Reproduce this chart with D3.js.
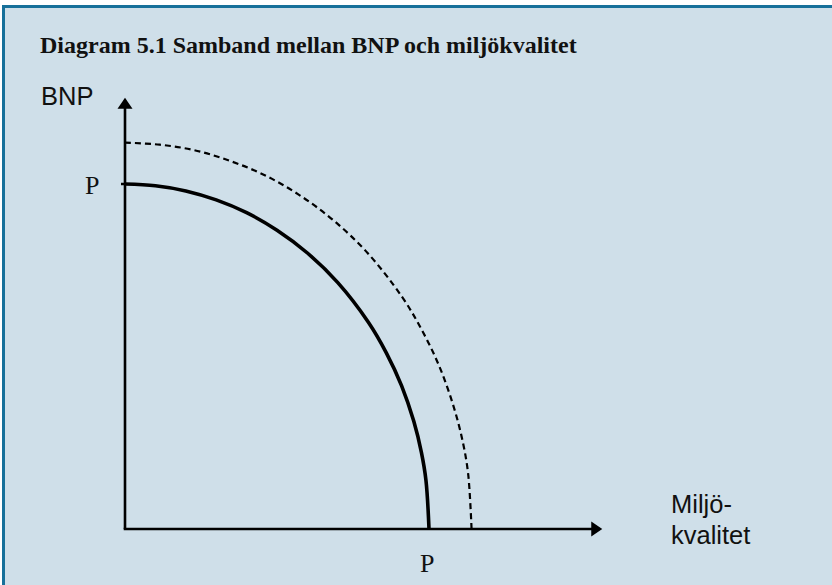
<!DOCTYPE html>
<html>
<head>
<meta charset="utf-8">
<script src="https://cdn.jsdelivr.net/npm/d3@7"></script>
<style>
  body { margin: 0; background: #fff; }
  svg { display: block; }
</style>
</head>
<body>
<script>
// values; P = 1 on both axes
const title = "Diagram 5.1 Samband mellan BNP och miljökvalitet";
const yLabel = "BNP";
const xLabel = ["Miljö-", "kvalitet"];
const pointLabel = "P";

const axisMax = { x: 1.57, y: 1.25 };

const solidX = [0, 0.1, 0.2, 0.3, 0.4, 0.5, 0.6, 0.7, 0.8, 0.86, 0.91, 0.95, 0.975, 0.99, 1.0];
const solidY = [1, 0.995, 0.98, 0.954, 0.917, 0.866, 0.8, 0.714, 0.6, 0.51, 0.415, 0.312, 0.222, 0.141, 0];

const dashedX = [0, 0.114, 0.228, 0.342, 0.456, 0.57, 0.684, 0.798, 0.912, 0.98, 1.037, 1.083, 1.112, 1.129, 1.14];
const dashedY = [1.12, 1.114, 1.098, 1.068, 1.027, 0.97, 0.896, 0.8, 0.672, 0.571, 0.465, 0.349, 0.249, 0.158, 0];

const width = 832;
const height = 585;
const origin = { x: 125, y: 529 };

const svg = d3.select("body")
  .append("svg")
  .attr("width", width)
  .attr("height", height);

// panel with teal frame (cropped on the right and bottom)
svg.append("rect")
  .attr("x", 3.5)
  .attr("y", 6.5)
  .attr("width", width + 10)
  .attr("height", height + 10)
  .attr("fill", "#cfdfe9")
  .attr("stroke", "#17709a")
  .attr("stroke-width", 3);

const x = d3.scaleLinear().domain([0, 1]).range([origin.x, 429]);
const y = d3.scaleLinear().domain([0, 1]).range([origin.y, 184]);

svg.append("text")
  .attr("x", 40)
  .attr("y", 53)
  .attr("font-family", "Liberation Serif, Times New Roman, serif")
  .attr("font-weight", "bold")
  .attr("font-size", 24)
  .attr("fill", "#111")
  .text(title);

// axes
const axes = svg.append("g")
  .attr("stroke", "#000")
  .attr("stroke-width", 2.6)
  .attr("fill", "none");

axes.append("path")
  .attr("d", d3.line()([[x(0), y(0)], [x(0), y(axisMax.y) + 8]]));
axes.append("path")
  .attr("d", d3.line()([[x(0) - 1.3, y(0)], [x(axisMax.x) - 8, y(0)]]));

const yTip = [x(0), y(axisMax.y)];
svg.append("path")
  .attr("d", d3.line()([[yTip[0], yTip[1]], [yTip[0] - 7.5, yTip[1] + 11], [yTip[0] + 7.5, yTip[1] + 11]]) + "Z")
  .attr("fill", "#000");

const xTip = [x(axisMax.x), y(0)];
svg.append("path")
  .attr("d", d3.line()([[xTip[0], xTip[1]], [xTip[0] - 11, xTip[1] - 7.5], [xTip[0] - 11, xTip[1] + 7.5]]) + "Z")
  .attr("fill", "#000");

// curves
const line = d3.line()
  .x(d => x(d[0]))
  .y(d => y(d[1]))
  .curve(d3.curveCatmullRom.alpha(0.5));

svg.append("path")
  .attr("d", line(d3.zip(dashedX, dashedY)))
  .attr("fill", "none")
  .attr("stroke", "#000")
  .attr("stroke-width", 2.2)
  .attr("stroke-dasharray", "6,4");

svg.append("path")
  .attr("d", line(d3.zip(solidX, solidY)))
  .attr("fill", "none")
  .attr("stroke", "#000")
  .attr("stroke-width", 3.6);

// small tick at P on the y axis
svg.append("path")
  .attr("d", d3.line()([[x(0) - 4, y(1)], [x(0), y(1)]]))
  .attr("stroke", "#000")
  .attr("stroke-width", 2.5);

// labels
svg.append("text")
  .attr("x", 41)
  .attr("y", 105)
  .attr("font-family", "Liberation Sans, Arial, sans-serif")
  .attr("font-size", 25.5)
  .attr("fill", "#111")
  .text(yLabel);

svg.append("text")
  .attr("x", x(0) - 40)
  .attr("y", y(1) + 10)
  .attr("font-family", "Liberation Serif, Times New Roman, serif")
  .attr("font-size", 26)
  .attr("fill", "#111")
  .text(pointLabel);

svg.append("text")
  .attr("x", x(1) - 9)
  .attr("y", 572)
  .attr("font-family", "Liberation Serif, Times New Roman, serif")
  .attr("font-size", 26)
  .attr("fill", "#111")
  .text(pointLabel);

svg.append("text")
  .attr("font-family", "Liberation Sans, Arial, sans-serif")
  .attr("font-size", 25.5)
  .attr("fill", "#111")
  .selectAll("tspan")
  .data(xLabel)
  .join("tspan")
  .attr("x", 671)
  .attr("y", (d, i) => 513 + i * 31)
  .text(d => d);
</script>
</body>
</html>
